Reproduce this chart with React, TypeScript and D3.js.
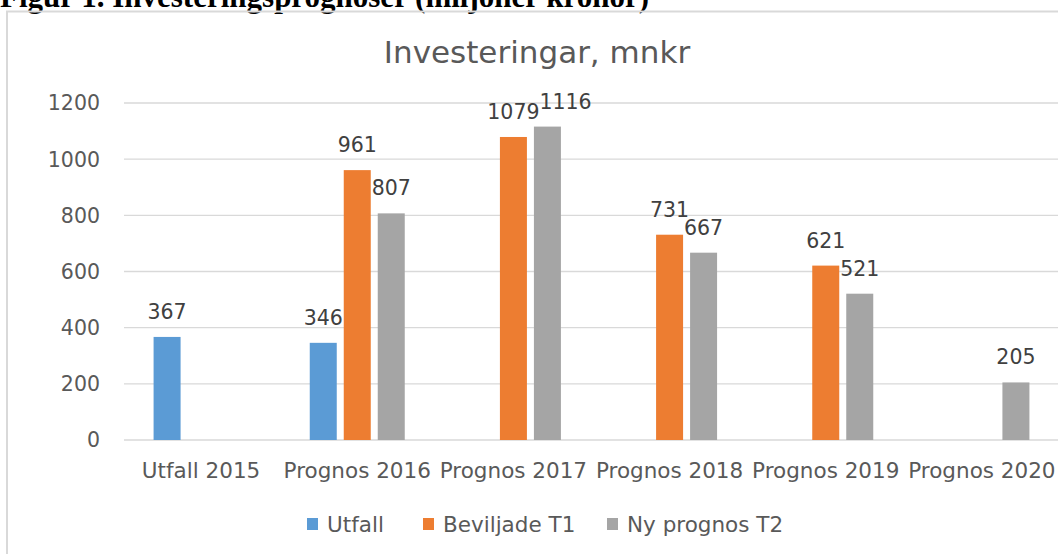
import React from "react";
import * as d3 from "d3";

const categories = ["Utfall 2015", "Prognos 2016", "Prognos 2017", "Prognos 2018", "Prognos 2019", "Prognos 2020"];
const seriesNames = ["Utfall", "Beviljade T1", "Ny prognos T2"];
const utfall = [367, 346, null, null, null, null];
const beviljadeT1 = [null, 961, 1079, 731, 621, null];
const nyPrognosT2 = [null, 807, 1116, 667, 521, 205];
const yTicks = [0, 200, 400, 600, 800, 1000, 1200];
const colors = ["#5B9BD5", "#ED7D31", "#A5A5A5"];

const W = 1058;
const H = 554;
const FONT = "'DejaVu Sans', sans-serif";
const TEXT = "#595959";

export default function App() {
  const values = [utfall, beviljadeT1, nyPrognosT2];

  const x0 = d3.scaleBand().domain(categories).range([123, 1060]).padding(0);
  const x1 = d3.scaleBand().domain(seriesNames).range([-47.5, 47.5]).paddingInner(7 / 34);
  const y = d3.scaleLinear().domain([0, 1200]).range([440, 103]);

  const labelSize = 20.5;
  const digitW = 0.636 * labelSize;

  // bars + value labels, nudging a label right when it collides with its neighbour
  const bars: any[] = [];
  const labels: any[] = [];
  categories.forEach((c, ci) => {
    let prev: any = null;
    seriesNames.forEach((s, si) => {
      const v = values[si][ci];
      if (v == null) return;
      const bx = x0(c)! + x0.bandwidth() / 2 + x1(s)!;
      const by = y(v);
      bars.push({ key: `${c}-${s}`, x: bx, y: by, w: x1.bandwidth(), h: y(0) - by, color: colors[si] });
      const tw = String(v).length * digitW;
      let cx = bx + x1.bandwidth() / 2;
      const base = by - 18;
      if (prev) {
        const overlapX = prev.cx + prev.tw / 2 - (cx - tw / 2);
        const overlapY = Math.abs(prev.base - base) < labelSize * 0.75;
        if (overlapX > 0 && overlapY) cx += overlapX;
      }
      const lab = { key: `l-${c}-${s}`, cx, base, tw, text: String(v) };
      labels.push(lab);
      prev = lab;
    });
  });

  const legendX = [307, 423, 607];

  return (
    <svg width={W} height={H} style={{ position: "absolute", left: 0, top: 0, background: "#fff" }} fontFamily={FONT}>
      <text x={0} y={7} fontFamily="'Liberation Serif', serif" fontWeight="bold" fontSize={31} fill="#000">
        Figur 1. Investeringsprognoser (miljoner kronor)
      </text>
      <rect x={7} y={11.5} width={W + 20} height={H + 20} fill="none" stroke="#d9d9d9" strokeWidth={2} />
      <text x={537} y={63} textAnchor="middle" fontSize={31} fill={TEXT}>
        Investeringar, mnkr
      </text>

      {yTicks.map((t) => (
        <g key={t}>
          <line x1={124} x2={W} y1={y(t)} y2={y(t)} stroke="#d9d9d9" strokeWidth={1.4} />
          <text x={100} y={y(t)} dy="0.36em" textAnchor="end" fontSize={20.5} fill={TEXT}>
            {t}
          </text>
        </g>
      ))}

      {bars.map((b) => (
        <rect key={b.key} x={b.x} y={b.y} width={b.w} height={b.h} fill={b.color} />
      ))}

      {labels.map((l) => (
        <text key={l.key} x={l.cx} y={l.base} textAnchor="middle" fontSize={labelSize} fill="#404040">
          {l.text}
        </text>
      ))}

      {categories.map((c) => (
        <text key={c} x={x0(c)! + x0.bandwidth() / 2} y={478} textAnchor="middle" fontSize={21.5} fill={TEXT}>
          {c}
        </text>
      ))}

      {seriesNames.map((s, i) => (
        <g key={s}>
          <rect x={legendX[i]} y={518} width={11} height={12} fill={colors[i]} />
          <text x={legendX[i] + 20} y={532} fontSize={21.5} fill={TEXT}>
            {s}
          </text>
        </g>
      ))}
    </svg>
  );
}
